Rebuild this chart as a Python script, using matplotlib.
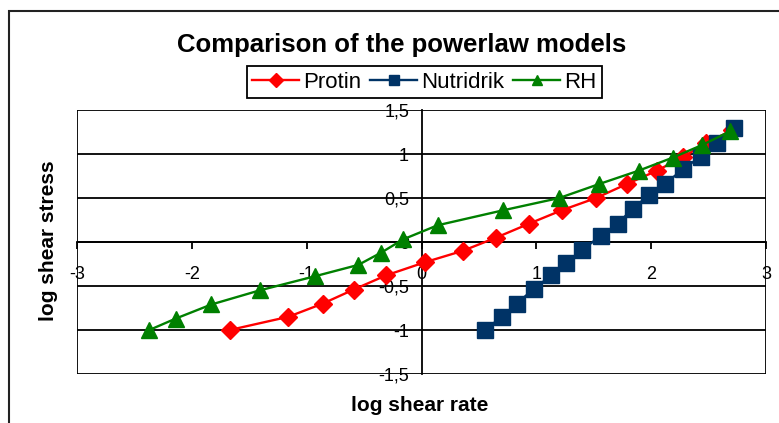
import matplotlib
matplotlib.use("Agg")
import matplotlib.pyplot as plt
from matplotlib.patches import Rectangle

plt.rcParams['font.family'] = ['Liberation Sans', 'DejaVu Sans']

# Data
protin_x = [-1.67, -1.16, -0.86, -0.59, -0.31, 0.03, 0.36, 0.65, 0.94, 1.22, 1.52, 1.79, 2.05, 2.28, 2.48, 2.70]
protin_y = [-1.00, -0.85, -0.70, -0.54, -0.38, -0.23, -0.10, 0.05, 0.21, 0.36, 0.50, 0.66, 0.81, 0.97, 1.12, 1.27]

nutri_x = [0.55, 0.70, 0.83, 0.98, 1.13, 1.26, 1.40, 1.56, 1.71, 1.84, 1.98, 2.12, 2.28, 2.43, 2.57, 2.72]
nutri_y = [-1.00, -0.85, -0.70, -0.53, -0.38, -0.24, -0.09, 0.07, 0.21, 0.38, 0.53, 0.66, 0.83, 0.97, 1.12, 1.29]

rh_x = [-2.37, -2.14, -1.83, -1.41, -0.93, -0.55, -0.35, -0.16, 0.14, 0.71, 1.20, 1.55, 1.89, 2.19, 2.44, 2.69]
rh_y = [-1.00, -0.87, -0.71, -0.55, -0.39, -0.26, -0.12, 0.03, 0.19, 0.36, 0.50, 0.66, 0.81, 0.96, 1.10, 1.26]

x_ticks = [-3, -2, -1, 0, 1, 2, 3]
x_tick_labels = ["-3", "-2", "-1", "0", "1", "2", "3"]
y_ticks = [-1.5, -1.0, -0.5, 0.0, 0.5, 1.0, 1.5]
y_tick_labels = ["-1,5", "-1", "-0,5", "0", "0,5", "1", "1,5"]

title = "Comparison of the powerlaw models"
xlabel = "log shear rate"
ylabel = "log shear stress"

W, H = 779, 423
fig = plt.figure(figsize=(W / 100, H / 100), dpi=100)
ax = fig.add_axes([77 / W, 1 - 374 / H, (766 - 77) / W, (374 - 110) / H])

ax.set_xlim(-3, 3)
ax.set_ylim(-1.5, 1.5)

# horizontal grid lines and plot-area border
for yv in y_ticks:
    ax.axhline(yv, color='black', lw=1.3, zorder=1)
ax.axvline(-3, color='black', lw=1.3, zorder=1)
ax.axvline(3, color='black', lw=1.3, zorder=1)

# axes through origin
ax.spines['left'].set_position(('data', 0))
ax.spines['bottom'].set_position(('data', 0))
for s in ['top', 'right']:
    ax.spines[s].set_visible(False)
for s in ['left', 'bottom']:
    ax.spines[s].set_linewidth(1.3)

ax.set_xticks(x_ticks)
ax.set_xticklabels(x_tick_labels)
ax.set_yticks(y_ticks)
ax.set_yticklabels(y_tick_labels)
ax.tick_params(axis='x', direction='out', length=5, width=1.3, pad=12, labelsize=13)
ax.tick_params(axis='y', length=0, pad=9, labelsize=13)

ax.plot(protin_x, protin_y, color='#FF0000', lw=1.7, marker='D', markersize=9.5,
        markeredgecolor='#FF0000', label='Protin', zorder=3)
ax.plot(nutri_x, nutri_y, color='#003366', lw=1.7, marker='s', markersize=11,
        markeredgecolor='#003366', label='Nutridrik', zorder=3)
ax.plot(rh_x, rh_y, color='#008000', lw=1.7, marker='^', markersize=11,
        markeredgecolor='#008000', label='RH', zorder=4)

leg = fig.legend(loc='center', bbox_to_anchor=(424.5 / W, 1 - 82 / H), ncol=3,
                 frameon=True, fancybox=False, edgecolor='black', framealpha=1,
                 fontsize=16, handlelength=2.1, columnspacing=0.4, handletextpad=0.2,
                 borderpad=0.25, borderaxespad=0, markerscale=0.7)
leg.get_frame().set_linewidth(1.3)

fig.text(402 / W, 1 - 45 / H, title, ha='center', va='center', fontsize=18.5, fontweight='bold')
fig.text(420 / W, 1 - 405 / H, xlabel, ha='center', va='center', fontsize=15, fontweight='bold')
fig.text(49 / W, 1 - 241 / H, ylabel, ha='center', va='center', fontsize=15, fontweight='bold',
         rotation=90)

# outer chart frame (cut off at right and bottom)
fig.add_artist(Rectangle((9 / W, -0.1), 1.2, 1 - 11 / H + 0.1, transform=fig.transFigure,
                         fill=False, edgecolor='#222222', lw=1.5, clip_on=False))

fig.savefig('out.png', dpi=100)
